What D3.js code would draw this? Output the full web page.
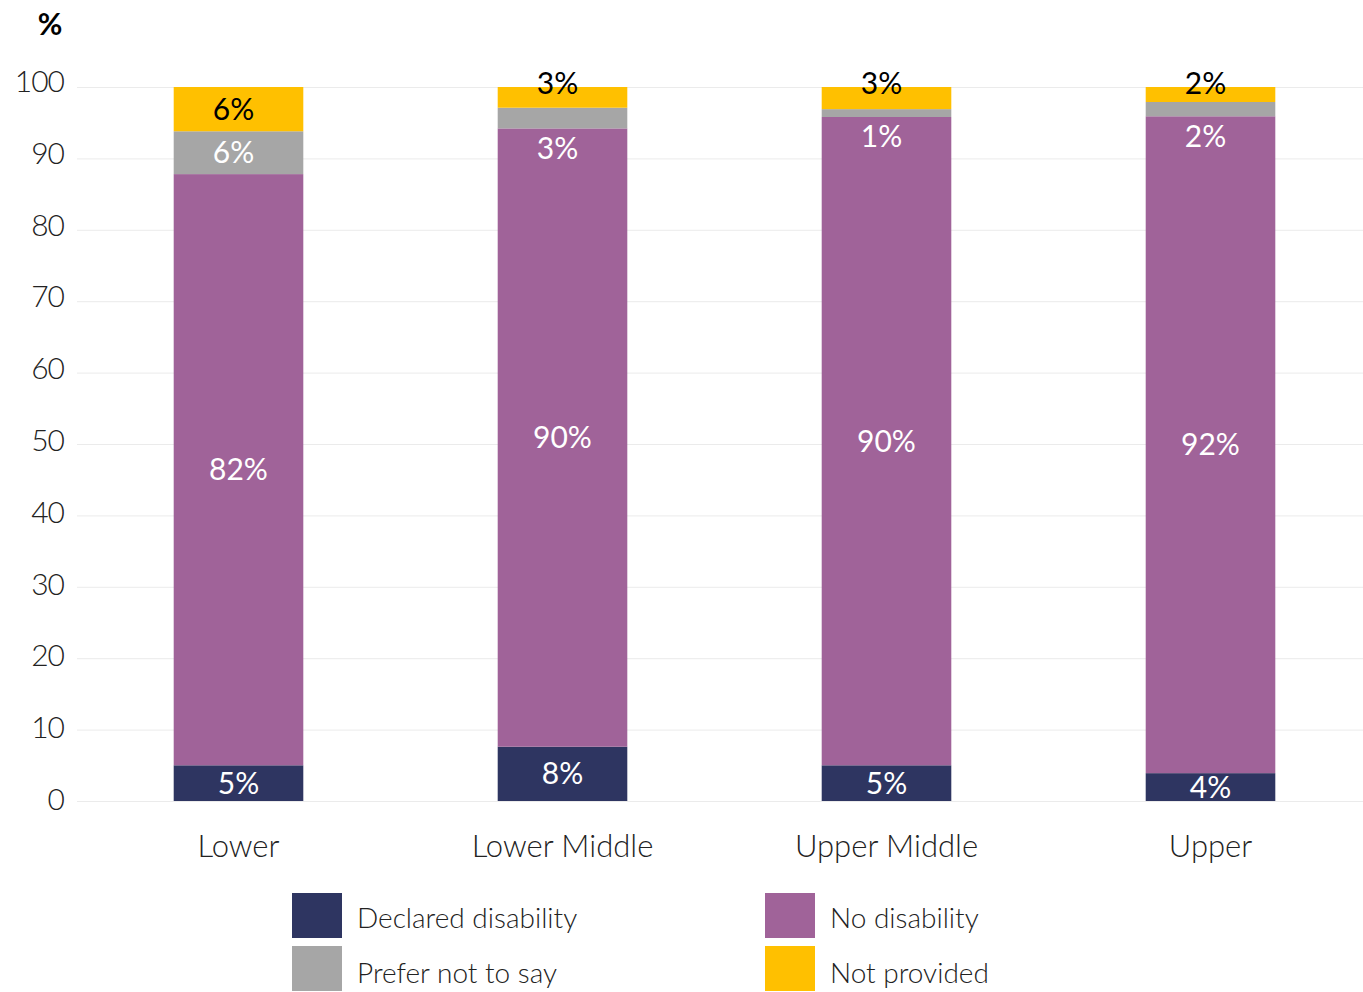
<!DOCTYPE html>
<meta charset="utf-8">
<style>
body { margin: 0; background: #fff; }
text { font-family: Lato, "Open Sans", sans-serif; font-weight: 300; fill: #222; }
.grid line { stroke: #ebebeb; }
</style>
<body>
<script src="https://cdn.jsdelivr.net/npm/d3@7"></script>
<script>

// data
var categories = ["Lower", "Lower Middle", "Upper Middle", "Upper"];
var series = ["Declared disability", "No disability", "Prefer not to say", "Not provided"];
var declared   = [5.0, 7.6, 5.0, 3.9];
var noDisab    = [82.8, 86.6, 90.8, 92.0];
var preferNot  = [6.0, 2.9, 1.1, 2.0];
var notProv    = [6.2, 2.9, 3.1, 2.1];
// printed labels
var declaredLbl  = ["5%", "8%", "5%", "4%"];
var noDisabLbl   = ["82%", "90%", "90%", "92%"];
var preferNotLbl = ["6%", "3%", "1%", "2%"];
var notProvLbl   = ["6%", "3%", "3%", "2%"];
var yTicks = [0, 10, 20, 30, 40, 50, 60, 70, 80, 90, 100];

var colors = ["#2e3561", "#a06399", "#a6a6a6", "#ffc000"];
var labelColors = ["#fff", "#fff", "#fff", "#000"];

var W = 1363, H = 992;
var svg = d3.select("body").append("svg")
    .attr("width", W)
    .attr("height", H);

// scales
var x = d3.scaleBand()
    .domain(categories)
    .range([76.5, 1372.5])
    .paddingInner(0.6)
    .paddingOuter(0.3);

var y = d3.scaleLinear()
    .domain([0, 100])
    .range([801, 87]);

// gridlines
var grid = svg.append("g").attr("class", "grid");
grid.selectAll("line")
    .data(yTicks)
  .enter().append("line")
    .attr("x1", 77)
    .attr("x2", W)
    .attr("y1", function(d) { return y(d) + 0.5; })
    .attr("y2", function(d) { return y(d) + 0.5; });

// y labels
svg.append("g").selectAll("text")
    .data(yTicks)
  .enter().append("text")
    .attr("x", 64)
    .attr("y", function(d) { return y(d) - 4 * (d / 100); })
    .attr("dy", "0.3em")
    .attr("text-anchor", "end")
    .style("font-size", "30px")
    .style("letter-spacing", "-1px")
    .text(function(d) { return d; });

svg.append("text")
    .attr("x", 50)
    .attr("y", 35)
    .attr("text-anchor", "middle")
    .style("font-size", "30px")
    .style("font-weight", "700")
    .style("fill", "#000")
    .text("%");

// stack
var rows = categories.map(function(c, i) {
  return {cat: c, s0: declared[i], s1: noDisab[i], s2: preferNot[i], s3: notProv[i],
          labels: [declaredLbl[i], noDisabLbl[i], preferNotLbl[i], notProvLbl[i]]};
});
var stack = d3.stack().keys(["s0", "s1", "s2", "s3"]);
var layers = stack(rows);

var bars = svg.append("g");
layers.forEach(function(layer, k) {
  bars.selectAll(".seg" + k)
      .data(layer)
    .enter().append("rect")
      .attr("class", "seg" + k)
      .attr("x", function(d) { return x(d.data.cat); })
      .attr("width", x.bandwidth())
      .attr("y", function(d) { return y(d[1]); })
      .attr("height", function(d) { return y(d[0]) - y(d[1]); })
      .attr("fill", colors[k]);
});

// segment labels
layers.forEach(function(layer, k) {
  bars.selectAll(".lbl" + k)
      .data(layer)
    .enter().append("text")
      .attr("x", function(d) {
        var cx = x(d.data.cat) + x.bandwidth() / 2;
        var h = y(d[0]) - y(d[1]);
        return (k >= 2) ? cx - 5 : cx;
      })
      .attr("y", function(d) {
        var top = y(d[1]), bot = y(d[0]), h = bot - top;
        if (h >= 30) return (top + bot) / 2;
        if (k == 3) return top - 4;       // small top segment: sits on the bar top
        if (k == 2) return bot + 20;      // small grey segment: pushed below
        return (top + bot) / 2;
      })
      .attr("dy", "0.35em")
      .attr("text-anchor", "middle")
      .style("font-size", "30px")
      .style("font-weight", "400")
      .style("fill", labelColors[k])
      .text(function(d) { return d.data.labels[k]; });
});

// x labels
svg.append("g").selectAll("text")
    .data(categories)
  .enter().append("text")
    .attr("x", function(d) { return x(d) + x.bandwidth() / 2; })
    .attr("y", 846)
    .attr("dy", "0.35em")
    .attr("text-anchor", "middle")
    .style("font-size", "31px")
    .text(function(d) { return d; });

// legend
var legPos = [[292, 893], [765, 893], [292, 946], [765, 946]];
var legend = svg.append("g");
series.forEach(function(s, i) {
  var g = legend.append("g").attr("transform", "translate(" + legPos[i][0] + "," + legPos[i][1] + ")");
  g.append("rect").attr("width", 50).attr("height", 45).attr("fill", colors[i]);
  g.append("text")
      .attr("x", 65)
      .attr("y", i >= 2 ? 27 : 25)
      .attr("dy", "0.35em")
      .style("font-size", "28px")
      .text(s);
});

</script>
</body>
